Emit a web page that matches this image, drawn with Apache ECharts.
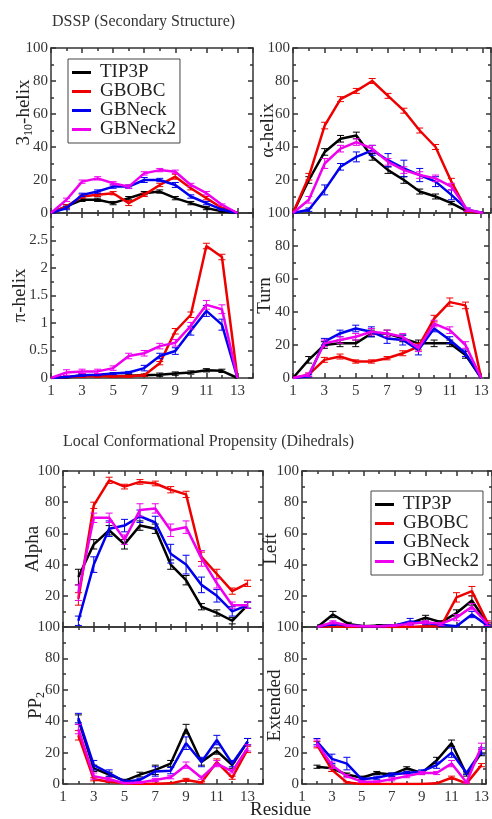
<!DOCTYPE html>
<html><head><meta charset="utf-8">
<script src="https://cdn.jsdelivr.net/npm/echarts@6/dist/echarts.min.js"></script>
<style>html,body{margin:0;padding:0;background:#fff}#c{width:492px;height:819px}</style>
</head><body><div id="c"></div><script>
// ---------- data ----------
const seriesNames = ['TIP3P', 'GBOBC', 'GBNeck', 'GBNeck2'];
const residuesDSSP = [1, 2, 3, 4, 5, 6, 7, 8, 9, 10, 11, 12, 13];
const residuesDihedral = [2, 3, 4, 5, 6, 7, 8, 9, 10, 11, 12, 13];

// DSSP: 3_10-helix (value, error)
const h310_TIP3P   = [0, 4, 8, 8, 6, 9, 12, 13, 9, 6, 3, 1, 0];
const h310_GBOBC   = [0, 4, 10, 11, 12, 6, 11, 17, 22, 15, 9, 3, 0];
const h310_GBNeck  = [0, 3, 11, 13, 16, 16, 20, 20, 17, 10, 6, 2, 0];
const h310_GBNeck2 = [0, 8, 19, 21, 18, 16, 24, 26, 25, 17, 12, 5, 0];
const h310err_TIP3P   = [0, 1, 1, 1, 1, 1, 1, 1, 1, 1, 1, 0.5, 0];
const h310err_GBOBC   = [0, 1, 1, 1, 1, 1.5, 1, 1, 1.5, 1, 1, 0.5, 0];
const h310err_GBNeck  = [0, 1, 1, 1, 1, 1, 1.5, 1, 1.5, 1, 1, 0.5, 0];
const h310err_GBNeck2 = [0, 1, 1, 1, 1, 1, 1, 1, 1, 1, 1, 0.5, 0];
// DSSP: alpha-helix
const ha_TIP3P   = [0, 20, 37, 45, 47, 34, 26, 20, 13, 10, 6, 1, 0];
const ha_GBOBC   = [0, 22, 53, 69, 74, 80, 71, 62, 50, 40, 19, 1, 0];
const ha_GBNeck  = [0, 2, 14, 28, 34, 38, 32, 27, 23, 19, 11, 2, 0];
const ha_GBNeck2 = [0, 8, 30, 39, 43, 39, 31, 26, 23, 21, 16, 2, 0];
const haerr_TIP3P   = [0, 2, 2, 2, 2, 2, 2, 2, 1.5, 1.5, 1, 0.5, 0];
const haerr_GBOBC   = [0, 2, 2, 1.5, 1.5, 1.5, 1.5, 1.5, 1.5, 1.5, 2, 0.5, 0];
const haerr_GBNeck  = [0, 1, 3, 2, 3, 3, 4, 5, 4, 3, 3, 1, 0];
const haerr_GBNeck2 = [0, 2, 3, 2, 2, 2, 2, 2, 2, 2, 2, 1, 0];
// DSSP: pi-helix
const hp_TIP3P   = [0, 0.01, 0.05, 0.05, 0.03, 0.04, 0.05, 0.06, 0.08, 0.1, 0.14, 0.13, 0];
const hp_GBOBC   = [0, 0.02, 0.03, 0.03, 0.03, 0.03, 0.05, 0.27, 0.85, 1.15, 2.4, 2.2, 0];
const hp_GBNeck  = [0, 0.02, 0.05, 0.06, 0.08, 0.1, 0.18, 0.4, 0.49, 0.86, 1.22, 0.97, 0];
const hp_GBNeck2 = [0, 0.1, 0.12, 0.12, 0.18, 0.4, 0.45, 0.58, 0.64, 0.95, 1.33, 1.25, 0];
const hperr_TIP3P   = [0, 0.02, 0.03, 0.02, 0.02, 0.02, 0.02, 0.03, 0.03, 0.03, 0.03, 0.03, 0];
const hperr_GBOBC   = [0, 0.02, 0.02, 0.02, 0.02, 0.02, 0.02, 0.03, 0.05, 0.05, 0.05, 0.05, 0];
const hperr_GBNeck  = [0, 0.02, 0.02, 0.02, 0.02, 0.02, 0.05, 0.05, 0.06, 0.08, 0.1, 0.1, 0];
const hperr_GBNeck2 = [0, 0.05, 0.04, 0.04, 0.04, 0.05, 0.05, 0.05, 0.06, 0.06, 0.08, 0.08, 0];
// DSSP: turn
const turn_TIP3P   = [0, 11, 20, 21, 21, 27, 27, 24, 21, 21, 21, 14, 0];
const turn_GBOBC   = [0, 2, 11, 13, 10, 10, 12, 15, 19, 36, 46, 44, 0];
const turn_GBNeck  = [0, 1, 22, 27, 30, 28, 24, 23, 17, 30, 23, 15, 0];
const turn_GBNeck2 = [0, 2, 21, 23, 25, 28, 27, 25, 18, 33, 29, 20, 0];
const turnerr_TIP3P   = [0, 2, 2, 2, 2, 2, 2, 2, 2, 2, 2, 2, 0];
const turnerr_GBOBC   = [0, 1, 1.5, 1.5, 1, 1, 1, 1.5, 2, 2, 2.5, 2, 0];
const turnerr_GBNeck  = [0, 1, 2, 2, 2, 3, 3, 3, 3, 2, 2, 2, 0];
const turnerr_GBNeck2 = [0, 1, 2, 2, 2, 2, 2, 2, 2, 2, 2, 2, 0];
// Dihedrals: Alpha
const alpha_TIP3P   = [32, 53, 62, 53, 65, 63, 40, 30, 13, 9, 4, 14];
const alpha_GBOBC   = [18, 78, 94, 90, 93, 92, 88, 85, 45, 34, 23, 28];
const alpha_GBNeck  = [4, 40, 63, 65, 71, 67, 47, 40, 27, 20, 10, 14];
const alpha_GBNeck2 = [22, 70, 70, 56, 75, 76, 62, 64, 44, 28, 14, 14];
const alphaerr_TIP3P   = [5, 3, 3, 3, 3, 3, 3, 3, 2, 2, 2, 2];
const alphaerr_GBOBC   = [4, 2, 2, 1.5, 1.5, 1.5, 2, 2, 3, 3, 2, 2];
const alphaerr_GBNeck  = [3, 5, 5, 4, 4, 4, 6, 6, 5, 4, 3, 2];
const alphaerr_GBNeck2 = [5, 3, 3, 3, 4, 3, 4, 4, 5, 3, 2, 2];
// Dihedrals: Left
const left_TIP3P   = [0, 8, 2, 0.5, 1, 1, 2.5, 6, 3, 9, 17, 2];
const left_GBOBC   = [0, 0.5, 0, 0, 0, 0, 0, 0.5, 0.5, 19, 23, 3];
const left_GBNeck  = [0, 2, 1, 0.5, 0.5, 1, 3.5, 2.5, 1.5, 0.5, 8, 1];
const left_GBNeck2 = [0, 3, 1, 0.5, 0.5, 1, 2, 3, 2, 6, 13, 2];
const lefterr_TIP3P   = [0, 2, 1, 0.5, 0.5, 0.5, 1, 1.5, 1, 2, 3, 1];
const lefterr_GBOBC   = [0, 0.5, 0.3, 0.2, 0.2, 0.2, 0.2, 0.5, 0.5, 3, 3, 1];
const lefterr_GBNeck  = [0, 1, 0.5, 0.3, 0.3, 0.5, 2, 1, 1, 0.5, 2, 0.5];
const lefterr_GBNeck2 = [0, 1, 0.5, 0.3, 0.3, 0.5, 1, 1, 1, 2, 2, 1];
// Dihedrals: PP2
const pp2_TIP3P   = [41, 10, 6, 2, 6, 9, 13, 35, 14, 21, 12, 27];
const pp2_GBOBC   = [31, 3, 1.5, 0.4, 0, 0.2, 0.4, 2.6, 1, 14, 4, 22];
const pp2_GBNeck  = [42, 12, 7, 1.5, 2.6, 8, 8.5, 26, 14, 28, 13, 27];
const pp2_GBNeck2 = [35, 5, 3, 0.5, 1, 2.6, 4.3, 12, 4, 13, 8, 23];
const pp2err_TIP3P   = [3, 2, 1.5, 1, 1.5, 3, 2, 3, 2, 2, 2, 2];
const pp2err_GBOBC   = [3, 1, 0.5, 0.3, 0.2, 0.2, 0.3, 1, 0.5, 2, 1, 2];
const pp2err_GBNeck  = [3, 3, 2, 1, 1, 3, 2, 4, 3, 3, 2, 2];
const pp2err_GBNeck2 = [3, 2, 1, 0.5, 0.5, 1, 1, 2, 1, 2, 1, 2];
// Dihedrals: Extended
const ext_TIP3P   = [11, 10, 6, 4, 7, 6, 10, 7, 15, 26, 6, 20];
const ext_GBOBC   = [25, 9, 1, 0, 0, 0, 0, 0, 0.4, 4, 0.4, 12];
const ext_GBNeck  = [27, 16, 13, 3, 4, 6, 7, 8, 12, 20, 7, 21];
const ext_GBNeck2 = [26, 12, 5, 1.5, 1.5, 3, 5, 7, 7, 13, 1, 24];
const exterr_TIP3P   = [1, 2, 1, 1, 1, 1, 1, 1, 2, 2, 1, 2];
const exterr_GBOBC   = [2, 1, 0.5, 0.2, 0.2, 0.2, 0.2, 0.2, 0.3, 1, 0.3, 1];
const exterr_GBNeck  = [2, 3, 4, 1, 1, 1, 1, 1, 2, 3, 1, 2];
const exterr_GBNeck2 = [2, 2, 1, 0.5, 0.5, 1, 1, 1, 1, 2, 0.5, 2];

// ---------- layout / style ----------
const FONT = 'Liberation Serif';
const colors = ['#000000', '#ee0000', '#0000ee', '#ee00ee'];
const AX = '#333';

const panels = [
  {name: '{a|3}{s|10}{a|-helix}', x: residuesDSSP,
   ys: [h310_TIP3P, h310_GBOBC, h310_GBNeck, h310_GBNeck2],
   es: [h310err_TIP3P, h310err_GBOBC, h310err_GBNeck, h310err_GBNeck2],
   box: [51, 48, 202, 165], xMax: 14, yMax: 100, yStep: 20, xLabels: false, hide: [], gap: 16, pad: [0, 0, 0, 36]},
  {name: '{a|α-helix}', x: residuesDSSP,
   ys: [ha_TIP3P, ha_GBOBC, ha_GBNeck, ha_GBNeck2],
   es: [haerr_TIP3P, haerr_GBOBC, haerr_GBNeck, haerr_GBNeck2],
   box: [293, 48, 198, 165], xMax: 13.5, yMax: 100, yStep: 20, xLabels: false, hide: [0], gap: 14},
  {name: '{a|π-helix}', x: residuesDSSP,
   ys: [hp_TIP3P, hp_GBOBC, hp_GBNeck, hp_GBNeck2],
   es: [hperr_TIP3P, hperr_GBOBC, hperr_GBNeck, hperr_GBNeck2],
   box: [51, 213, 202, 165], xMax: 14, yMax: 3, yStep: 0.5, xLabels: true, hide: [3], gap: 20},
  {name: '{a|Turn}', x: residuesDSSP,
   ys: [turn_TIP3P, turn_GBOBC, turn_GBNeck, turn_GBNeck2],
   es: [turnerr_TIP3P, turnerr_GBOBC, turnerr_GBNeck, turnerr_GBNeck2],
   box: [293, 213, 198, 165], xMax: 13.5, yMax: 100, yStep: 20, xLabels: true, hide: [], gap: 17},
  {name: '{a|Alpha}', x: residuesDihedral,
   ys: [alpha_TIP3P, alpha_GBOBC, alpha_GBNeck, alpha_GBNeck2],
   es: [alphaerr_TIP3P, alphaerr_GBOBC, alphaerr_GBNeck, alphaerr_GBNeck2],
   box: [63, 471, 200, 156], xMax: 14, yMax: 100, yStep: 20, xLabels: false, hide: [0], gap: 19},
  {name: '{a|Left}', x: residuesDihedral,
   ys: [left_TIP3P, left_GBOBC, left_GBNeck, left_GBNeck2],
   es: [lefterr_TIP3P, lefterr_GBOBC, lefterr_GBNeck, lefterr_GBNeck2],
   box: [302, 471, 190, 156], xMax: 13.3, yMax: 100, yStep: 20, xLabels: false, hide: [0], gap: 20},
  {name: '{a|PP}{s|2}', x: residuesDihedral,
   ys: [pp2_TIP3P, pp2_GBOBC, pp2_GBNeck, pp2_GBNeck2],
   es: [pp2err_TIP3P, pp2err_GBOBC, pp2err_GBNeck, pp2err_GBNeck2],
   box: [63, 627, 200, 157], xMax: 14, yMax: 100, yStep: 20, xLabels: true, hide: [], gap: 16},
  {name: '{a|Extended}', x: residuesDihedral,
   ys: [ext_TIP3P, ext_GBOBC, ext_GBNeck, ext_GBNeck2],
   es: [exterr_TIP3P, exterr_GBOBC, exterr_GBNeck, exterr_GBNeck2],
   box: [302, 627, 190, 157], xMax: 13.3, yMax: 100, yStep: 20, xLabels: true, hide: [], gap: 16}
];

const grid = [], xAxis = [], yAxis = [], series = [];
const ls = {color: AX, width: 1.5};
panels.forEach((p, i) => {
  grid.push({left: p.box[0], top: p.box[1], width: p.box[2], height: p.box[3], containLabel: false});
  const common = {
    gridIndex: i, type: 'value', splitLine: {show: false}, minorSplitLine: {show: false},
    axisLine: {show: true, onZero: false, lineStyle: ls},
    axisTick: {show: true, inside: true, length: 5, lineStyle: ls},
    minorTick: {show: true, splitNumber: 2, length: 3, lineStyle: ls}
  };
  const xc = Object.assign({}, common, {min: 1, max: p.xMax, interval: 2});
  xAxis.push(Object.assign({}, xc, {position: 'bottom', axisLabel: {
    show: p.xLabels, fontFamily: FONT, fontSize: 15, color: AX, margin: 6,
    formatter: v => (Math.abs(v % 2) === 1 && v <= 13) ? String(v) : ''}}));
  xAxis.push(Object.assign({}, xc, {position: 'top', axisLabel: {show: false}}));
  const yc = Object.assign({}, common, {min: 0, max: p.yMax, interval: p.yStep});
  yAxis.push(Object.assign({}, yc, {position: 'left',
    name: p.name, nameLocation: 'middle', nameGap: p.gap, nameMoveOverlap: false,
    nameTextStyle: {fontFamily: FONT, fontSize: 19, color: '#222', padding: p.pad || 0,
      rich: {a: {fontFamily: FONT, fontSize: 19, color: '#222', lineHeight: 22},
             s: {fontFamily: FONT, fontSize: 12, color: '#222', lineHeight: 12, verticalAlign: 'bottom'}}},
    axisLabel: {show: true, fontFamily: FONT, fontSize: 15, color: AX, margin: 3,
      formatter: v => p.hide.indexOf(v) >= 0 ? '' : String(v)}}));
  yAxis.push(Object.assign({}, yc, {position: 'right', axisLabel: {show: false}}));
  p.ys.forEach((arr, k) => {
    const col = colors[k];
    series.push({
      type: 'line', name: seriesNames[k], xAxisIndex: 2 * i, yAxisIndex: 2 * i,
      data: p.x.map((xv, j) => [xv, arr[j]]),
      showSymbol: false, symbol: 'none', z: 2 + k,
      lineStyle: {width: 2.5, color: col}, itemStyle: {color: col}
    });
    series.push({
      type: 'custom', coordinateSystem: 'cartesian2d', xAxisIndex: 2 * i, yAxisIndex: 2 * i,
      z: 2 + k, clip: true, silent: true,
      data: p.x.map((xv, j) => [xv, arr[j], p.es[k][j]]),
      encode: {x: 0, y: 1},
      renderItem: (params, api) => {
        const xv = api.value(0), yv = api.value(1), e = api.value(2);
        if (!e) return null;
        const t = api.coord([xv, yv + e]), b = api.coord([xv, yv - e]);
        const st = {stroke: col, lineWidth: 1};
        return {type: 'group', children: [
          {type: 'line', shape: {x1: t[0], y1: t[1], x2: b[0], y2: b[1]}, style: st},
          {type: 'line', shape: {x1: t[0] - 3.5, y1: t[1], x2: t[0] + 3.5, y2: t[1]}, style: st},
          {type: 'line', shape: {x1: b[0] - 3.5, y1: b[1], x2: b[0] + 3.5, y2: b[1]}, style: st}
        ]};
      }
    });
  });
});

const legendBase = {
  data: seriesNames, orient: 'vertical', icon: 'rect', itemWidth: 19, itemHeight: 3, itemGap: 0,
  padding: [4, 4, 4, 4], borderColor: '#444', borderWidth: 1, selectedMode: false,
  textStyle: {fontFamily: FONT, fontSize: 19, lineHeight: 19, color: '#222', padding: [0, 0, 0, 4]}
};

const chart = echarts.init(document.getElementById('c'), null, {renderer: 'canvas'});
chart.setOption({
  animation: false,
  backgroundColor: '#ffffff',
  color: colors,
  title: [
    {text: 'DSSP (Secondary Structure)', left: 52, top: 14, padding: 0,
     textStyle: {fontFamily: FONT, fontSize: 16, fontWeight: 'normal', color: '#333'}},
    {text: 'Local Conformational Propensity (Dihedrals)', left: 63, top: 434, padding: 0,
     textStyle: {fontFamily: FONT, fontSize: 16, fontWeight: 'normal', color: '#333'}},
    {text: 'Residue', left: 250, top: 801, padding: 0,
     textStyle: {fontFamily: FONT, fontSize: 19, fontWeight: 'normal', color: '#222'}}
  ],
  legend: [
    Object.assign({}, legendBase, {left: 68, top: 59}),
    Object.assign({}, legendBase, {left: 371, top: 491})
  ],
  grid, xAxis, yAxis, series
});
</script></body></html>
